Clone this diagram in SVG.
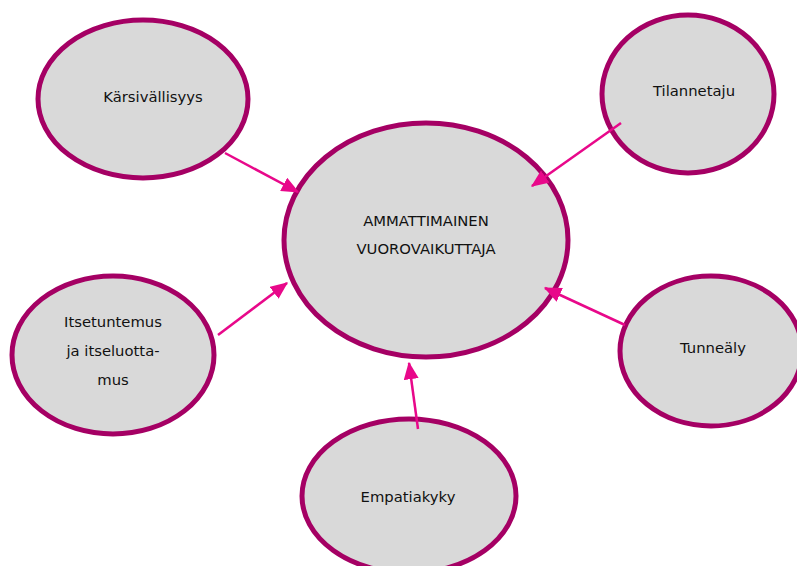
<svg xmlns="http://www.w3.org/2000/svg" width="797" height="566" viewBox="0 0 797 566">
<defs>
<style>
.node ellipse{fill:#d9d9d9;stroke:#a50064;stroke-width:5}
.node text{font-family:"DejaVu Sans","Liberation Sans",sans-serif;font-size:14.8px;fill:#111;text-anchor:middle}
.conn line{stroke:#e8088a;stroke-width:2.5;marker-end:url(#ah)}
</style>
<marker id="ah" markerWidth="7" markerHeight="6" refX="6.5" refY="3" orient="auto" markerUnits="strokeWidth">
<path d="M0,0 L7,3 L0,6 Z" fill="#e8088a"/>
</marker>
</defs>
<rect width="797" height="566" fill="#fff"/>
<g id="center" class="node">
<ellipse cx="426" cy="240" rx="142" ry="117"/>
<text x="426" y="226">AMMATTIMAINEN</text>
<text x="426" y="254">VUOROVAIKUTTAJA</text>
</g>
<g id="karsivallisyys" class="node">
<ellipse cx="143" cy="99" rx="105" ry="79"/>
<text x="153" y="102">Kärsivällisyys</text>
</g>
<g id="tilannetaju" class="node">
<ellipse cx="688" cy="94" rx="86" ry="79"/>
<text x="694" y="96">Tilannetaju</text>
</g>
<g id="itsetuntemus" class="node">
<ellipse cx="113" cy="355" rx="101" ry="79"/>
<text x="113" y="327">Itsetuntemus</text>
<text x="113" y="356">ja itseluotta-</text>
<text x="113" y="385">mus</text>
</g>
<g id="tunnealy" class="node">
<ellipse cx="711" cy="351" rx="91" ry="75"/>
<text x="713" y="353">Tunneäly</text>
</g>
<g id="empatiakyky" class="node">
<ellipse cx="409" cy="496" rx="107" ry="77"/>
<text x="408" y="502">Empatiakyky</text>
</g>
<g id="connectors" class="conn">
<line x1="225" y1="153" x2="298" y2="192"/>
<line x1="621" y1="123" x2="532" y2="186"/>
<line x1="218" y1="335" x2="287" y2="283"/>
<line x1="625" y1="325" x2="545" y2="288"/>
<line x1="418" y1="429" x2="409" y2="363"/>
</g>
</svg>
